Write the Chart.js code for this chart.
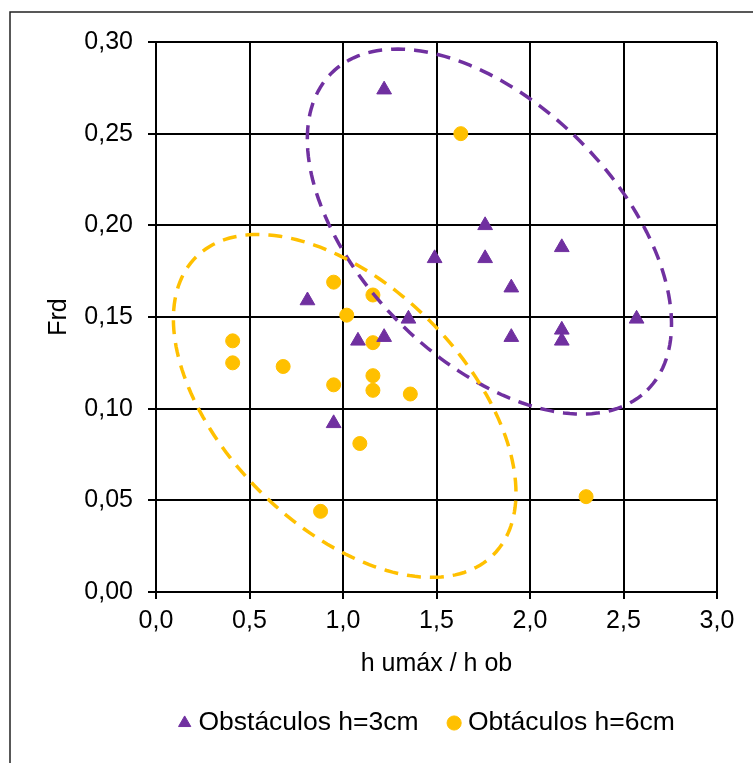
<!DOCTYPE html>
<html>
<head>
<meta charset="utf-8">
<script src="https://cdn.jsdelivr.net/npm/chart.js@4/dist/chart.umd.min.js"></script>
<style>
  html, body { margin: 0; padding: 0; background: #fff; }
  canvas { display: block; }
</style>
</head>
<body>
<canvas id="grafico" width="753" height="763"></canvas>
<script>
// --- DATOS ---
const X_TITLE = 'h umáx / h ob';
const Y_TITLE = 'Frd';
const SERIE_3CM = 'Obstáculos h=3cm';
const SERIE_6CM = 'Obtáculos h=6cm';

// obstáculos de 3 cm
const x3cm = [1.22, 1.49, 0.81, 1.35, 1.76, 1.76, 2.17, 1.90, 2.57, 1.08, 1.22, 0.95, 1.90, 2.17, 2.17];
const y3cm = [0.274, 0.182, 0.159, 0.149, 0.200, 0.182, 0.188, 0.166, 0.149, 0.137, 0.139, 0.092, 0.139, 0.143, 0.137];

// obstáculos de 6 cm
const x6cm = [1.63, 0.95, 1.16, 1.02, 0.41, 0.41, 0.68, 1.16, 0.95, 1.16, 1.16, 1.36, 1.09, 0.88, 2.30];
const y6cm = [0.250, 0.169, 0.162, 0.151, 0.137, 0.125, 0.123, 0.136, 0.113, 0.118, 0.110, 0.108, 0.081, 0.044, 0.052];

const xTicks = [0, 0.5, 1.0, 1.5, 2.0, 2.5, 3.0];
const yTicks = [0, 0.05, 0.10, 0.15, 0.20, 0.25, 0.30];

// elipses de agrupación: centro y extremos de los dos semiejes (unidades de los ejes)
const elipse3cmCentro = [1.783, 0.1966];
const elipse3cmEje1 = [2.628, 0.1102];
const elipse3cmEje2 = [2.267, 0.246];
const elipse6cmCentro = [1.009, 0.1015];
const elipse6cmEje1 = [1.804, 0.0203];
const elipse6cmEje2 = [1.464, 0.1479];

// --- ESTILO ---
const MORADO = '#7030A0';
const AMARILLO = '#FFC000';
const FUENTE = "'Liberation Sans', Arial, sans-serif";
const coma = (v, dec) => v.toFixed(dec).replace('.', ',');

const puntos = (xs, ys) => xs.map((x, i) => ({ x: x, y: ys[i] }));

// fondo blanco y marco exterior
const marcoPlugin = {
    id: 'marco',
    beforeDraw(chart) {
        const ctx = chart.ctx;
        ctx.save();
        ctx.fillStyle = '#fff';
        ctx.fillRect(0, 0, chart.width, chart.height);
        ctx.strokeStyle = '#222';
        ctx.lineWidth = 1.5;
        ctx.strokeRect(10, 12, chart.width + 20, chart.height + 20);
        ctx.restore();
    }
};

// la leyenda ocupa todo el ancho; se desplaza para quedar bajo el área de trazado
const leyendaPlugin = {
    id: 'leyendaDesplazada',
    afterLayout(chart) {
        chart.legend.left += 66;
        chart.legend.right += 66;
    }
};

// elipses discontinuas sobre los puntos
const elipsesPlugin = {
    id: 'elipses',
    afterDatasetsDraw(chart) {
        const { ctx, scales: { x, y } } = chart;
        const dibujar = (centro, eje1, eje2, color) => {
            const cx = x.getPixelForValue(centro[0]);
            const cy = y.getPixelForValue(centro[1]);
            const ux = x.getPixelForValue(eje1[0]) - cx;
            const uy = y.getPixelForValue(eje1[1]) - cy;
            const vx = x.getPixelForValue(eje2[0]) - cx;
            const vy = y.getPixelForValue(eje2[1]) - cy;
            ctx.save();
            ctx.strokeStyle = color;
            ctx.lineWidth = 3.5;
            ctx.setLineDash([14, 9]);
            ctx.beginPath();
            const n = 180;
            for (let i = 0; i <= n; i++) {
                const t = (i / n) * Math.PI * 2;
                const px = cx + ux * Math.cos(t) + vx * Math.sin(t);
                const py = cy + uy * Math.cos(t) + vy * Math.sin(t);
                if (i === 0) ctx.moveTo(px, py); else ctx.lineTo(px, py);
            }
            ctx.stroke();
            ctx.restore();
        };
        dibujar(elipse3cmCentro, elipse3cmEje1, elipse3cmEje2, MORADO);
        dibujar(elipse6cmCentro, elipse6cmEje1, elipse6cmEje2, AMARILLO);
    }
};

const ctx = document.getElementById('grafico').getContext('2d');
new Chart(ctx, {
    type: 'scatter',
    data: {
        datasets: [{
            label: SERIE_3CM,
            data: puntos(x3cm, y3cm),
            pointStyle: 'triangle',
            pointRadius: 8.5,
            backgroundColor: MORADO,
            borderColor: MORADO,
            borderWidth: 1
        }, {
            label: SERIE_6CM,
            data: puntos(x6cm, y6cm),
            pointStyle: 'circle',
            pointRadius: 7,
            backgroundColor: AMARILLO,
            borderColor: AMARILLO,
            borderWidth: 1
        }]
    },
    options: {
        responsive: false,
        animation: false,
        devicePixelRatio: 1,
        layout: { padding: { top: 42, right: 36, left: 10, bottom: 16.75 } },
        scales: {
            x: {
                type: 'linear', min: 0, max: 3,
                afterBuildTicks: s => { s.ticks = xTicks.map(v => ({ value: v })); },
                afterFit: s => { s.height = 82.75; },
                grid: { color: '#000', lineWidth: 2, tickLength: 7, tickColor: '#000', tickWidth: 2 },
                border: { color: '#000', width: 2 },
                ticks: {
                    color: '#000', padding: 7, maxRotation: 0,
                    font: { family: FUENTE, size: 25 },
                    callback: v => coma(v, 1)
                },
                title: {
                    display: true, text: X_TITLE, color: '#000',
                    font: { family: FUENTE, size: 25 },
                    padding: { top: 0, bottom: -4.25 }
                }
            },
            y: {
                type: 'linear', min: 0, max: 0.30,
                afterBuildTicks: s => { s.ticks = yTicks.map(v => ({ value: v })); },
                afterFit: s => { s.width = 146; },
                grid: { color: '#000', lineWidth: 2, tickLength: 8, tickColor: '#000', tickWidth: 2 },
                border: { color: '#000', width: 2 },
                ticks: {
                    color: '#000', padding: 15,
                    font: { family: FUENTE, size: 25 },
                    callback: v => coma(v, 2)
                },
                title: {
                    display: true, text: Y_TITLE, color: '#000',
                    font: { family: FUENTE, size: 25 },
                    padding: { top: 34, bottom: 0 }
                }
            }
        },
        plugins: {
            legend: {
                position: 'bottom',
                fullSize: true,
                labels: {
                    usePointStyle: true,
                    boxWidth: 1,
                    boxHeight: 10,
                    padding: 35,
                    color: '#000',
                    font: { family: FUENTE, size: 26.5 }
                }
            },
            tooltip: { enabled: false }
        }
    },
    plugins: [marcoPlugin, leyendaPlugin, elipsesPlugin]
});
</script>
</body>
</html>
